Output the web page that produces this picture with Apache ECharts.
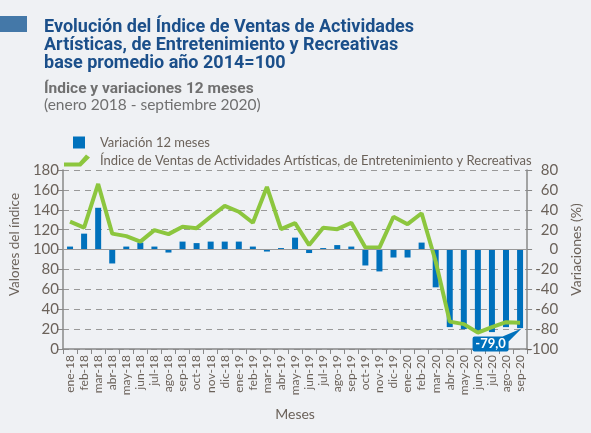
<!DOCTYPE html>
<html>
<head>
<meta charset="utf-8">
<script src="https://cdn.jsdelivr.net/npm/echarts@6/dist/echarts.min.js"></script>
<style>
html,body{margin:0;padding:0;background:#eff1f4;}
#c{width:591px;height:433px;}
</style>
</head>
<body>
<div id="c"></div>
<script>
var categories = ['ene-18','feb-18','mar-18','abr-18','may-18','jun-18','jul-18','ago-18','sep-18','oct-18','nov-18','dic-18',
  'ene-19','feb-19','mar-19','abr-19','may-19','jun-19','jul-19','ago-19','sep-19','oct-19','nov-19','dic-19',
  'ene-20','feb-20','mar-20','abr-20','may-20','jun-20','jul-20','ago-20','sep-20'];
var indexValues = [128,122,166,116,113.5,108,119.5,115.5,123,121.5,133,144,
  138,127,163,120.5,126.5,104.5,122,120.5,127,102,102,133,
  125.5,136.5,88,27.5,25,16.5,22,27,26.5];
var variationValues = [3,16,42,-14,3,7,3,-3,8,6.5,8,8,
  8,3,-2,1.5,12,-3.5,1.5,4.5,3,-16,-22,-8,
  -8,7,-38,-78,-80,-83,-83,-78,-79];
var leftTicks = [0,180,20];
var rightTicks = [-100,80,20];
var barName = 'Variación 12 meses';
var lineName = 'Índice de Ventas de Actividades Artísticas, de Entretenimiento y Recreativas';

var FONT = 'Lato, "Open Sans", sans-serif';
var NARROW = '"Liberation Sans Narrow", "Roboto", sans-serif';
var TXT = '#6b625a';
var chart = echarts.init(document.getElementById('c'));
var lastIdx = categories.length - 1;
function fmt(v){ return v.toFixed(1).replace('.', ','); }

chart.setOption({
  backgroundColor: '#eff1f4',
  animation: false,
  textStyle: {fontFamily: FONT},
  title: [
    {text: 'Evolución del Índice de Ventas de Actividades\nArtísticas, de Entretenimiento y Recreativas\nbase promedio año 2014=100',
     left: 39, top: 13,
     textStyle: {fontFamily: NARROW, fontWeight: 'bold', fontSize: 18, lineHeight: 18, color: '#1b4f8a'}},
    {text: 'Índice y variaciones 12 meses',
     left: 39, top: 76,
     textStyle: {fontFamily: NARROW, fontWeight: 'bold', fontSize: 15.5, color: '#707070'}},
    {text: '(enero 2018 - septiembre 2020)',
     left: 39, top: 92,
     textStyle: {fontFamily: FONT, fontWeight: 'normal', fontSize: 15.5, color: '#707070'}}
  ],
  graphic: [{type: 'rect', shape: {x: 0, y: 16, width: 27, height: 16}, style: {fill: '#4478a8'}}],
  legend: [
    {data: [{name: barName, icon: 'rect'}], left: 68, top: 131, itemWidth: 12, itemHeight: 12,
     textStyle: {fontFamily: FONT, fontSize: 13, color: TXT, padding: [0,0,0,10]}},
    {data: [{name: lineName, icon: 'path://M0,9 L15,9 L22,1 L26,4 L17,13 L0,13 Z'}], left: 59, top: 149, itemWidth: 26, itemHeight: 13,
     lineStyle: {opacity: 0, width: 0},
     itemStyle: {color: '#8cc63e'},
     textStyle: {fontFamily: FONT, fontSize: 13, color: TXT, padding: [0,0,0,5]}}
  ],
  grid: {left: 54, right: 59, top: 170, bottom: 84, containLabel: false},
  xAxis: {
    type: 'category', data: categories, boundaryGap: true,
    name: 'Meses', nameLocation: 'middle', nameGap: 58,
    nameTextStyle: {fontFamily: FONT, fontSize: 14, color: TXT},
    axisLine: {lineStyle: {color: '#888', width: 1.5}},
    axisTick: {show: true, interval: 0, length: 5, lineStyle: {color: '#888'}},
    axisLabel: {interval: 0, rotate: 90, fontSize: 12, color: TXT, margin: 6}
  },
  yAxis: [
    {type: 'value', min: leftTicks[0], max: leftTicks[1], interval: leftTicks[2],
     name: 'Valores del índice', nameLocation: 'middle', nameGap: 38,
     nameTextStyle: {fontFamily: FONT, fontSize: 13.5, color: TXT, padding: [0,0,0,30]},
     axisLine: {show: true, lineStyle: {color: '#888', width: 1.5}},
     axisTick: {show: true, length: 5, lineStyle: {color: '#888'}},
     axisLabel: {fontSize: 15, color: TXT, margin: 4},
     splitLine: {show: true, lineStyle: {color: '#999', type: [6,5], width: 1.2}}},
    {type: 'value', min: rightTicks[0], max: rightTicks[1], interval: rightTicks[2],
     name: 'Variaciones (%)', nameLocation: 'middle', nameGap: 40, nameRotate: 90,
     nameTextStyle: {fontFamily: FONT, fontSize: 14, color: TXT, padding: [0,0,0,20]},
     axisLine: {show: true, lineStyle: {color: '#888', width: 1.5}},
     axisTick: {show: true, length: 5, lineStyle: {color: '#888'}},
     axisLabel: {fontSize: 15, color: TXT, margin: 31, align: 'right'},
     splitLine: {show: false}}
  ],
  series: [
    {name: barName, type: 'bar', yAxisIndex: 1, data: variationValues, barWidth: 6,
     itemStyle: {color: '#0071bc'},
     markLine: {silent: true, symbol: 'none', label: {show: false},
       lineStyle: {color: '#999', type: 'solid', width: 1.2},
       data: [{yAxis: 0}]},
     markPoint: {
       data: [{coord: [categories[lastIdx], variationValues[lastIdx]], value: variationValues[lastIdx]}],
       symbol: 'path://M2,8 L30,8 L49,0 L36,13 L36,21 Q36,23 34,23 L2,23 Q0,23 0,21 L0,10 Q0,8 2,8 Z',
       symbolSize: [49, 23], symbolOffset: [-23, 12], symbolKeepAspect: false,
       itemStyle: {color: '#0071bc'},
       label: {show: true, position: 'inside', offset: [-6.5, 4], color: '#fff', fontWeight: 'bold', fontSize: 13, fontFamily: FONT,
         formatter: function(p){ return fmt(p.value); }}
     }},
    {name: lineName, type: 'line', yAxisIndex: 0, data: indexValues,
     symbol: 'none', lineStyle: {color: '#8cc63e', width: 4}, itemStyle: {color: '#8cc63e'}, z: 3}
  ]
});
</script>
</body>
</html>
